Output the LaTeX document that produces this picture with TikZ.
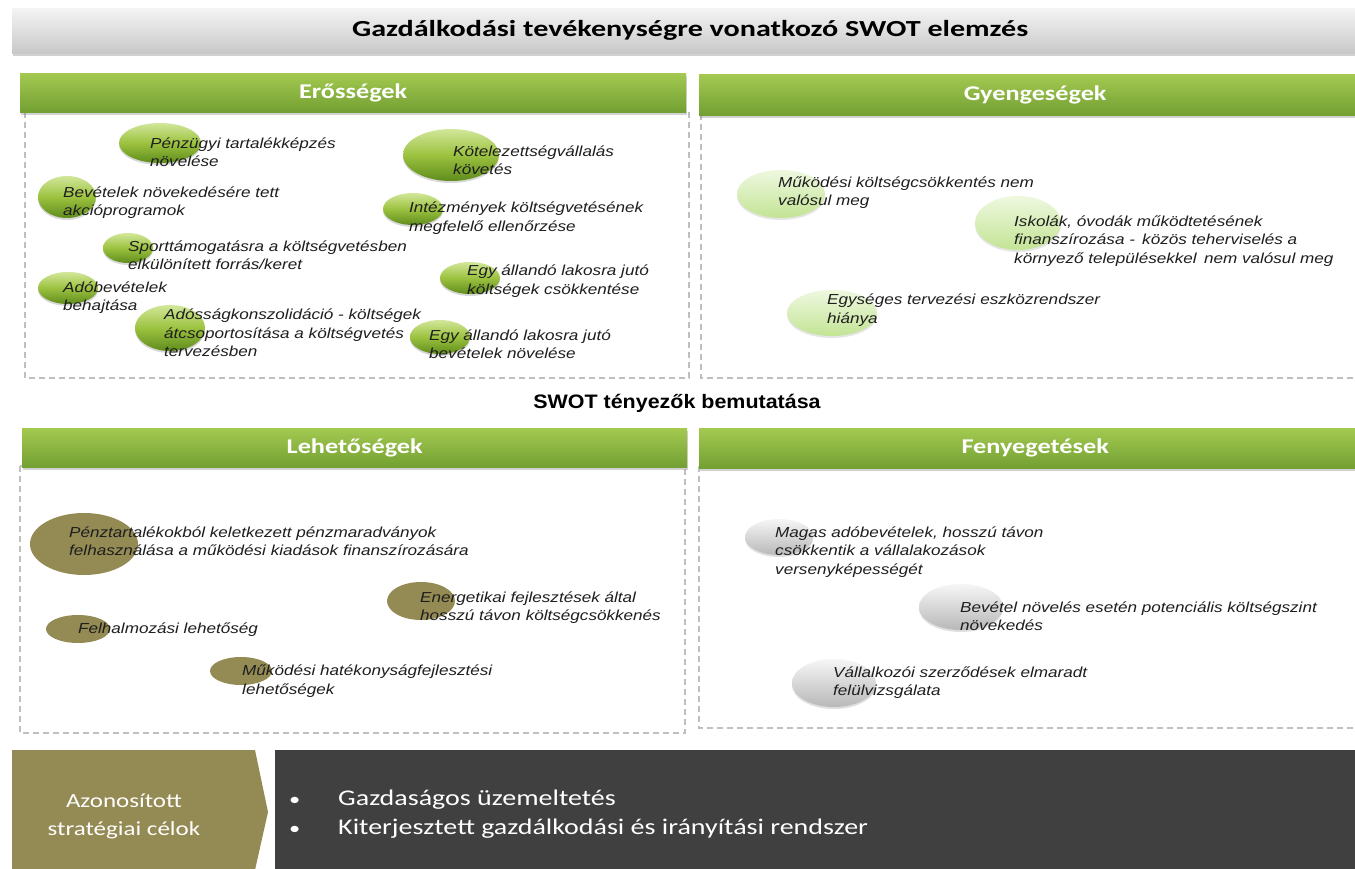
\documentclass[tikz,border=0pt]{standalone}
\usepackage{fontspec}
\setmainfont{Liberation Sans}
\newfontfamily\itxt[FakeStretch=1.18]{Liberation Sans}
\newfontfamily\arb[FakeStretch=1.1]{Liberation Sans}
\newfontfamily\carl[FakeStretch=1.25]{Carlito}
\newfontfamily\carlt[FakeStretch=1.31]{Carlito}
\usetikzlibrary{shapes.geometric,shadows}
\definecolor{olivebox}{HTML}{948A54}
\definecolor{darkbox}{HTML}{404040}
\definecolor{hdrtop}{HTML}{A3C950}
\definecolor{hdrbot}{HTML}{73A033}
\definecolor{titletop}{HTML}{F4F4F4}
\definecolor{titlebot}{HTML}{C8C8C8}
\definecolor{dashgray}{HTML}{BFBFBF}
\definecolor{gtop}{HTML}{D2E79A}
\definecolor{gmid}{HTML}{9CC23F}
\definecolor{gbot}{HTML}{5F8C1C}
\definecolor{ltop}{HTML}{EEF8DF}
\definecolor{lbot}{HTML}{C3E495}
\definecolor{stop}{HTML}{F6F6F6}
\definecolor{sbot}{HTML}{B8B8B8}
\definecolor{txt}{HTML}{1E1E1E}
\tikzset{
  titlebar/.style={anchor=north west, inner sep=0, top color=titletop, bottom color=titlebot,
    drop shadow={opacity=0.35, shadow xshift=1pt, shadow yshift=-3pt},
    font=\carlt\bfseries\fontsize{23}{26}\selectfont, text=black},
  hdr/.style={anchor=north west, inner sep=0, top color=hdrtop, bottom color=hdrbot,
    drop shadow={opacity=0.35, shadow xshift=1pt, shadow yshift=-3pt},
    font=\carl\bfseries\fontsize{21}{24}\selectfont, text=white},
  panel/.style={draw=dashgray, dashed, dash pattern=on 6pt off 4pt, line width=1.1pt},
  blob/.style={ellipse, inner sep=0, draw=none},
  gball/.style={blob, top color=gtop, bottom color=gbot, middle color=gmid,
    drop shadow={opacity=0.3, shadow xshift=0pt, shadow yshift=-2pt}},
  lball/.style={blob, top color=ltop, bottom color=lbot,
    drop shadow={opacity=0.2, shadow xshift=0pt, shadow yshift=-2pt}},
  oball/.style={blob, fill=olivebox},
  sball/.style={blob, top color=stop, bottom color=sbot,
    drop shadow={opacity=0.25, shadow xshift=0pt, shadow yshift=-2pt}},
  itxt/.style={anchor=west, inner sep=0, align=left, text=txt,
    font=\itxt\itshape\fontsize{14.5}{18.5}\selectfont},
}
\begin{document}
\begin{tikzpicture}[x=1pt,y=-1pt]
\clip (0,0) rectangle (1355,869);
\fill[white] (0,0) rectangle (1355,869);

% title
\node[titlebar, minimum width=1356, minimum height=45] (title) at (12,8) {Gazdálkodási tevékenységre vonatkozó SWOT elemzés};

% panels
\draw[panel] (25,112) rectangle (689,378);
\draw[panel] (701,114) rectangle (1370,378);
\draw[panel] (20,466) rectangle (685,733);
\draw[panel] (699,466) rectangle (1370,728);

\node[hdr, minimum width=666, minimum height=39] (hS) at (20,73) {Erősségek};
\node[hdr, minimum width=672, minimum height=41] (hW) at (699,74) {Gyengeségek};
\node[hdr, minimum width=665, minimum height=39] (hO) at (22,428) {Lehetőségek};
\node[hdr, minimum width=672, minimum height=40] (hT) at (699,428) {Fenyegetések};

\node[font=\arb\bfseries\fontsize{19.5}{22}\selectfont, inner sep=0] (mid) at (677,403) {SWOT tényezők bemutatása};

% Strengths
\node[gball, minimum width=82, minimum height=40] (s1) at (160,143) {};
\node[gball, minimum width=58, minimum height=42] (s2) at (67,197) {};
\node[gball, minimum width=50, minimum height=30] (s3) at (128,248) {};
\node[gball, minimum width=60, minimum height=32] (s4) at (68,288) {};
\node[gball, minimum width=70, minimum height=46] (s5) at (170,328) {};
\node[gball, minimum width=96, minimum height=52] (s6) at (451,155) {};
\node[gball, minimum width=60, minimum height=32] (s7) at (413,209) {};
\node[gball, minimum width=60, minimum height=32] (s8) at (470,278) {};
\node[gball, minimum width=60, minimum height=34] (s9) at (440,337) {};

\node[itxt] (ts1) at (150,152) {Pénzügyi tartalékképzés\\növelése};
\node[itxt] (ts2) at (63,202.5) {Bevételek növekedésére tett\\akcióprogramok};
\node[itxt] (ts3) at (128,255) {Sporttámogatásra a költségvetésben\\elkülönített forrás/keret};
\node[itxt] (ts4) at (63,297.5) {Adóbevételek\\behajtása};
\node[itxt] (ts5) at (164,333) {Adósságkonszolidáció - költségek\\átcsoportosítása a költségvetés\\tervezésben};
\node[itxt] (ts6) at (453,160) {Kötelezettségvállalás\\követés};
\node[itxt] (ts7) at (409,218) {Intézmények költségvetésének\\megfelelő ellenőrzése};
\node[itxt] (ts8) at (467,281) {Egy állandó lakosra jutó\\költségek csökkentése};
\node[itxt] (ts9) at (429,344) {Egy állandó lakosra jutó\\bevételek növelése};

% Weaknesses
\node[lball, minimum width=88, minimum height=48] (w1) at (781,194) {};
\node[lball, minimum width=86, minimum height=54] (w2) at (1018,223) {};
\node[lball, minimum width=90, minimum height=46] (w3) at (832,313) {};
\node[itxt] (tw1) at (778,192.5) {Működési költségcsökkentés nem\\valósul meg};
\node[itxt] (tw2) at (1014,241) {Iskolák, óvodák működtetésének\\finanszírozása -\enspace közös teherviselés a\\környező településekkel\enspace nem valósul meg};
\node[itxt] (tw3) at (827,310) {Egységes tervezési eszközrendszer\\hiánya};

% Opportunities
\node[oball, minimum width=108, minimum height=62] (o1) at (84,544) {};
\node[oball, minimum width=68, minimum height=38] (o2) at (421,601) {};
\node[oball, minimum width=64, minimum height=28] (o3) at (78,629) {};
\node[oball, minimum width=62, minimum height=28] (o4) at (241,671) {};
\node[itxt] (to1) at (69,541) {Pénztartalékokból keletkezett pénzmaradványok\\felhasználása a működési kiadások finanszírozására};
\node[itxt] (to2) at (420,607.5) {Energetikai fejlesztések által\\hosszú távon költségcsökkenés};
\node[itxt] (to3) at (78,630) {Felhalmozási lehetőség};
\node[itxt] (to4) at (242,681) {Működési hatékonyságfejlesztési\\lehetőségek};

% Threats
\node[sball, minimum width=68, minimum height=36] (t1) at (779,537) {};
\node[sball, minimum width=84, minimum height=46] (t2) at (961,607) {};
\node[sball, minimum width=84, minimum height=48] (t3) at (834,683) {};
\node[itxt] (tt1) at (775,552) {Magas adóbevételek, hosszú távon\\csökkentik a vállalakozások\\versenyképességét};
\node[itxt] (tt2) at (960,616) {Bevétel növelés esetén potenciális költségszint\\növekedés};
\node[itxt] (tt3) at (833,682.5) {Vállalkozói szerződések elmaradt\\felülvizsgálata};

% bottom band
\fill[darkbox] (275,750) rectangle (1360,870);
\fill[olivebox] (12,750) -- (255,750) -- (268,812) -- (255,870) -- (12,870) -- cycle;
\node[font=\carl\fontsize{20}{28}\selectfont, text=white, align=center, inner sep=0] (goal) at (124,816) {Azonosított\\stratégiai célok};
\node[font=\carl\fontsize{22.4}{28.5}\selectfont, text=white, align=left, anchor=west, inner sep=0] (aims) at (289,814)
  {\makebox[49pt][l]{\fontsize{18}{20}\selectfont•}Gazdaságos üzemeltetés\\\makebox[49pt][l]{\fontsize{18}{20}\selectfont•}Kiterjesztett gazdálkodási és irányítási rendszer};
\end{tikzpicture}
\end{document}
